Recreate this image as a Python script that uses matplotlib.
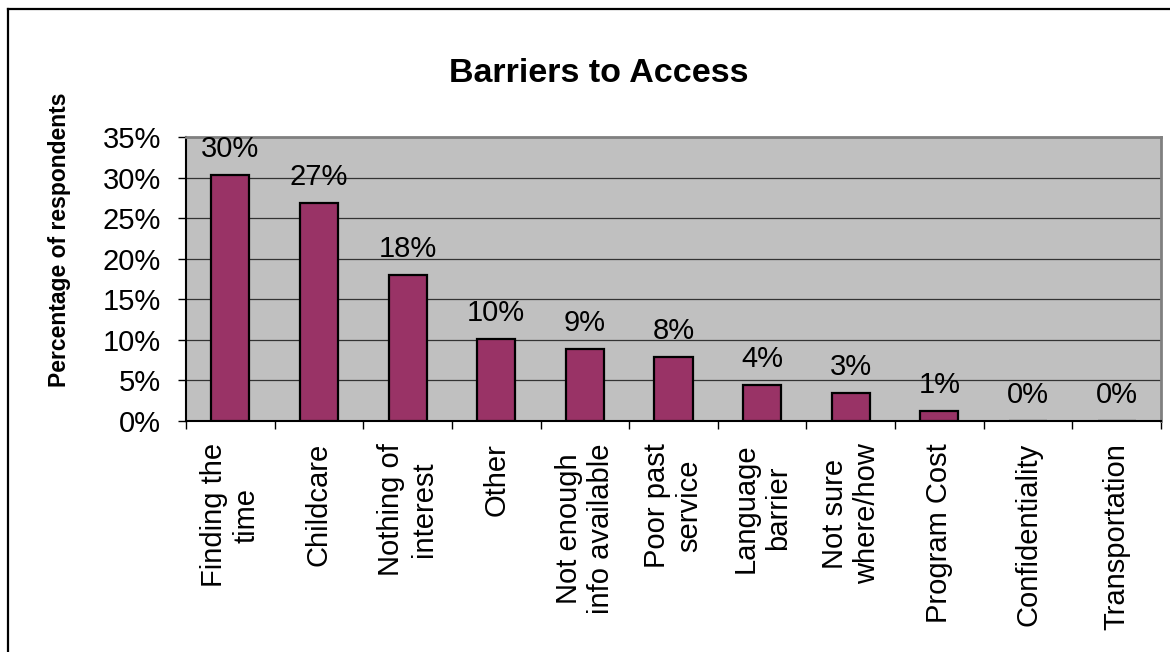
import numpy as np
import matplotlib.pyplot as plt
from matplotlib.lines import Line2D
from matplotlib.ticker import FuncFormatter

plt.rcParams['font.family'] = ['Liberation Sans', 'DejaVu Sans']

# survey results (share of respondents)
categories = ["Finding the\ntime", "Childcare", "Nothing of\ninterest", "Other",
              "Not enough\ninfo available", "Poor past\nservice", "Language\nbarrier",
              "Not sure\nwhere/how", "Program Cost", "Confidentiality", "Transportation"]
shares = [0.303, 0.269, 0.180, 0.101, 0.089, 0.079, 0.044, 0.034, 0.012, 0.0, 0.0]
yticks = [0.0, 0.05, 0.10, 0.15, 0.20, 0.25, 0.30, 0.35]

fig = plt.figure(figsize=(11.7, 6.52), dpi=100)
ax = fig.add_axes([186/1170, 1-421/652, (1161-186)/1170, (421-137)/652])
ax.set_facecolor('#C0C0C0')

x = np.arange(len(categories))
bars = ax.bar(x, shares, width=0.43, color='#993366', edgecolor='black', linewidth=1.6, zorder=3)

# value labels above each bar
for xi, v in zip(x, shares):
    ax.annotate("{:.0%}".format(v), (xi, v), xytext=(0, 13), textcoords='offset points',
                ha='center', va='baseline', fontsize=21)

ax.set_xlim(-0.5, len(categories) - 0.5)
ax.set_ylim(0, 0.35)
ax.set_yticks(yticks)
ax.yaxis.set_major_formatter(FuncFormatter(lambda v, p: "{:.0%}".format(v)))
ax.grid(axis='y', color='#333333', linewidth=0.9, zorder=1)

# category labels centred under bars, tick marks on the boundaries
ax.set_xticks(x)
ax.set_xticklabels(categories, rotation=90, ha='center', va='top', multialignment='center')
ax.set_xticks(np.arange(len(categories) + 1) - 0.5, minor=True)
ax.tick_params(axis='x', which='major', length=0, pad=16, labelsize=21)
ax.tick_params(axis='x', which='minor', length=6, width=1, direction='out')
ax.tick_params(axis='y', length=6, width=1, pad=12, labelsize=21)

for side in ('left', 'bottom'):
    ax.spines[side].set_color('black')
    ax.spines[side].set_linewidth(1.5)
for side in ('top', 'right'):
    ax.spines[side].set_color('#808080')
    ax.spines[side].set_linewidth(2)

fig.text(599/1170, 1-73/652, "Barriers to Access", ha='center', va='center',
         fontsize=24.5, fontweight='bold')
fig.text(60/1170, 1-240/652, "Percentage of respondents", ha='center', va='center',
         rotation=90, fontsize=16.5, fontweight='bold')

# chart frame
fig.add_artist(Line2D([8/1170, 8/1170], [0, 1-9/652], color='black', linewidth=1.6))
fig.add_artist(Line2D([8/1170, 1], [1-9/652, 1-9/652], color='black', linewidth=1.6))

fig.savefig('out.png', dpi=100)
